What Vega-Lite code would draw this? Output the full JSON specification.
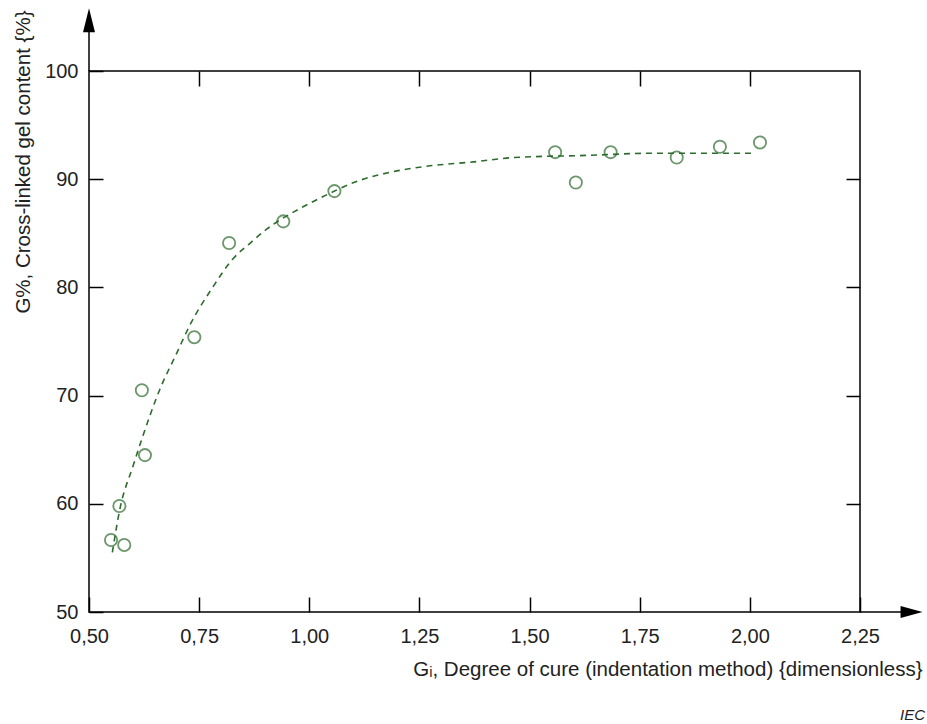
{
  "$schema": "https://vega.github.io/schema/vega-lite/v6.json",
  "width": 771,
  "height": 541,
  "autosize": "none",
  "padding": {"left": 89, "top": 71, "right": 67, "bottom": 112},
  "background": "white",
  "config": {
    "view": {"stroke": "black", "strokeWidth": 1.5},
    "font": "Liberation Sans",
    "axis": {
      "domain": false,
      "tickColor": "black",
      "tickWidth": 1.5,
      "grid": false,
      "labelColor": "#222222",
      "titleColor": "#222222",
      "labelFont": "Liberation Sans",
      "titleFont": "Liberation Sans"
    }
  },
  "title": {
    "text": "IEC",
    "orient": "bottom",
    "anchor": "end",
    "frame": "group",
    "fontSize": 15,
    "fontStyle": "italic",
    "fontWeight": "normal",
    "color": "#222222",
    "font": "Liberation Sans",
    "dx": 65,
    "offset": 28
  },
  "datasets": {
    "curve": [
      {"x": 0.553, "y": 55.5},
      {"x": 0.57, "y": 59.5},
      {"x": 0.60, "y": 63.5},
      {"x": 0.62, "y": 66.0},
      {"x": 0.66, "y": 70.5},
      {"x": 0.70, "y": 74.0},
      {"x": 0.73, "y": 76.6},
      {"x": 0.779, "y": 79.9},
      {"x": 0.828, "y": 82.7},
      {"x": 0.866, "y": 84.1},
      {"x": 0.904, "y": 85.4},
      {"x": 0.979, "y": 87.3},
      {"x": 1.017, "y": 88.1},
      {"x": 1.115, "y": 89.9},
      {"x": 1.191, "y": 90.7},
      {"x": 1.267, "y": 91.2},
      {"x": 1.373, "y": 91.6},
      {"x": 1.464, "y": 92.0},
      {"x": 1.63, "y": 92.2},
      {"x": 1.78, "y": 92.4},
      {"x": 2.01, "y": 92.4}
    ],
    "points": [
      {"x": 0.550, "y": 56.65},
      {"x": 0.580, "y": 56.2},
      {"x": 0.569, "y": 59.8},
      {"x": 0.627, "y": 64.5},
      {"x": 0.620, "y": 70.5},
      {"x": 0.739, "y": 75.4},
      {"x": 0.818, "y": 84.1},
      {"x": 0.941, "y": 86.1},
      {"x": 1.057, "y": 88.9},
      {"x": 1.558, "y": 92.5},
      {"x": 1.605, "y": 89.7},
      {"x": 1.684, "y": 92.5},
      {"x": 1.834, "y": 92.0},
      {"x": 1.932, "y": 93.0},
      {"x": 2.023, "y": 93.4}
    ],
    "axisLines": [
      {"x": 0.5, "y": 100, "x2": 0.5, "y2": 104.0},
      {"x": 2.25, "y": 50, "x2": 2.35, "y2": 50}
    ],
    "arrowUp": [{"x": 0.5, "y": 104.7}],
    "arrowRight": [{"x": 2.367, "y": 50}]
  },
  "layer": [
    {
      "data": {"name": "curve"},
      "mark": {"type": "line", "color": "#2e6b2e", "strokeWidth": 1.6, "strokeDash": [6, 5], "interpolate": "monotone"},
      "encoding": {
        "x": {
          "field": "x", "type": "quantitative",
          "scale": {"domain": [0.5, 2.25], "nice": false, "zero": false},
          "axis": {
            "orient": "bottom",
            "values": [0.5, 0.75, 1.0, 1.25, 1.5, 1.75, 2.0, 2.25],
            "labelExpr": "replace(format(datum.value, '.2f'), '.', ',')",
            "offset": -15,
            "tickSize": 15,
            "labelPadding": 14,
            "labelFontSize": 20,
            "labelFlush": false,
            "labelOverlap": false,
            "title": "G\u1d62, Degree of cure (indentation method) {dimensionless}",
            "titleFontSize": 20.5,
            "titleFontWeight": "normal",
            "titleAnchor": "end",
            "titleAlign": "right",
            "titleX": 833,
            "titleY": 78,
            "titleBaseline": "alphabetic"
          }
        },
        "y": {
          "field": "y", "type": "quantitative",
          "scale": {"domain": [50, 100], "nice": false, "zero": false},
          "axis": {
            "orient": "left",
            "values": [50, 60, 70, 80, 90, 100],
            "offset": -14,
            "tickSize": 14,
            "labelPadding": 11,
            "labelFontSize": 20,
            "labelFlush": false,
            "labelOverlap": false,
            "title": "G%, Cross-linked gel content {%}",
            "titleFontSize": 20.5,
            "titleFontWeight": "normal",
            "titleAnchor": "end",
            "titleAlign": "right",
            "titleX": -80,
            "titleY": -61,
            "titleBaseline": "middle"
          }
        }
      }
    },
    {
      "data": {"name": "points"},
      "mark": {"type": "point", "shape": "circle", "filled": false, "color": "#2e6b2e", "strokeWidth": 1.8, "size": 150},
      "encoding": {
        "x": {
          "field": "x", "type": "quantitative",
          "axis": {
            "orient": "top",
            "values": [0.75, 1.0, 1.25, 1.5, 1.75, 2.0],
            "labels": false,
            "title": null,
            "offset": -15,
            "tickSize": 15
          }
        },
        "y": {
          "field": "y", "type": "quantitative",
          "axis": {
            "orient": "right",
            "values": [60, 70, 80, 90],
            "labels": false,
            "title": null,
            "offset": -14,
            "tickSize": 14
          }
        }
      }
    },
    {
      "data": {"name": "axisLines"},
      "mark": {"type": "rule", "color": "black", "strokeWidth": 1.5, "clip": false},
      "encoding": {
        "x": {"field": "x", "type": "quantitative", "axis": null},
        "y": {"field": "y", "type": "quantitative", "axis": null},
        "x2": {"field": "x2"},
        "y2": {"field": "y2"}
      }
    },
    {
      "data": {"name": "arrowUp"},
      "mark": {"type": "point", "shape": "M-0.5,1L0,-1L0.5,1Z", "filled": true, "color": "black", "opacity": 1, "size": 576, "clip": false},
      "encoding": {
        "x": {"field": "x", "type": "quantitative", "axis": null},
        "y": {"field": "y", "type": "quantitative", "axis": null}
      }
    },
    {
      "data": {"name": "arrowRight"},
      "mark": {"type": "point", "shape": "M-1,-0.55L1,0L-1,0.55Z", "filled": true, "color": "black", "opacity": 1, "size": 484, "clip": false},
      "encoding": {
        "x": {"field": "x", "type": "quantitative", "axis": null},
        "y": {"field": "y", "type": "quantitative", "axis": null}
      }
    }
  ]
}
